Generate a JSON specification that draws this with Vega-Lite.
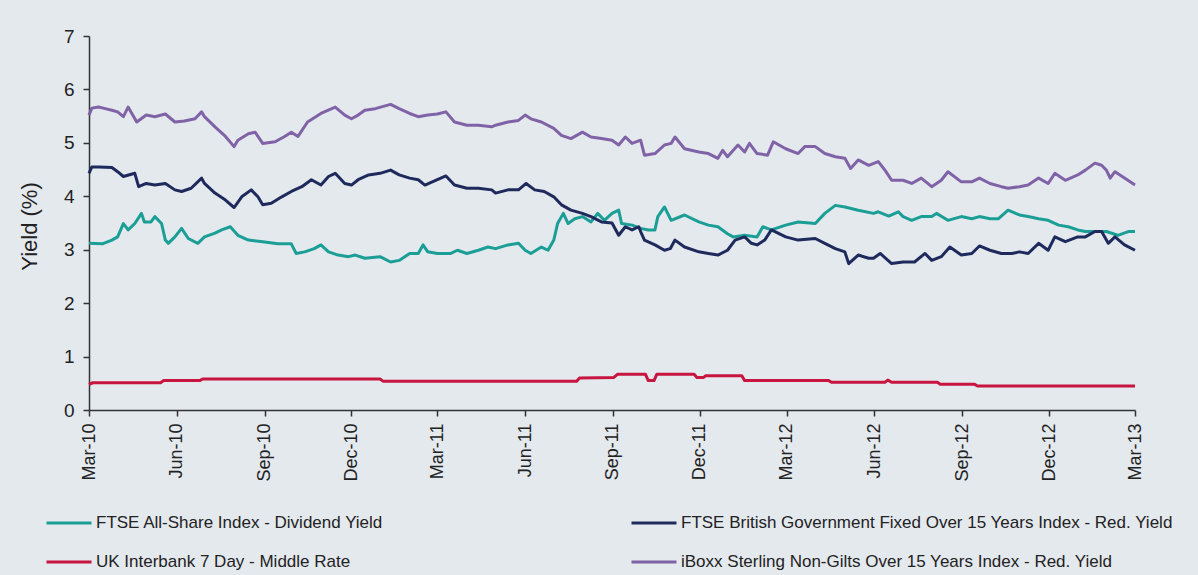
{
  "$schema": "https://vega.github.io/schema/vega-lite/v6.json",
  "width": 1046,
  "height": 374,
  "autosize": {"type": "none"},
  "padding": {"left": 89, "top": 36, "right": 63, "bottom": 165},
  "background": "#e4e9ee",
  "config": {
    "view": {"stroke": null},
    "font": "Liberation Sans"
  },
  "datasets": {
    "rows": [
      {"s":"A","d":"2010-03-01","v":3.12},{"s":"A","d":"2010-03-15","v":3.11},{"s":"A","d":"2010-03-25","v":3.18},{"s":"A","d":"2010-03-31","v":3.24},{"s":"A","d":"2010-04-06","v":3.49},{"s":"A","d":"2010-04-11","v":3.37},{"s":"A","d":"2010-04-18","v":3.49},{"s":"A","d":"2010-04-25","v":3.68},{"s":"A","d":"2010-04-28","v":3.52},{"s":"A","d":"2010-05-05","v":3.52},{"s":"A","d":"2010-05-09","v":3.62},{"s":"A","d":"2010-05-16","v":3.49},{"s":"A","d":"2010-05-20","v":3.18},{"s":"A","d":"2010-05-23","v":3.12},{"s":"A","d":"2010-05-30","v":3.24},{"s":"A","d":"2010-06-06","v":3.40},{"s":"A","d":"2010-06-13","v":3.21},{"s":"A","d":"2010-06-23","v":3.12},{"s":"A","d":"2010-06-30","v":3.24},{"s":"A","d":"2010-07-11","v":3.31},{"s":"A","d":"2010-07-18","v":3.37},{"s":"A","d":"2010-07-27","v":3.43},{"s":"A","d":"2010-08-04","v":3.27},{"s":"A","d":"2010-08-15","v":3.18},{"s":"A","d":"2010-08-30","v":3.15},{"s":"A","d":"2010-09-15","v":3.11},{"s":"A","d":"2010-09-29","v":3.11},{"s":"A","d":"2010-10-04","v":2.93},{"s":"A","d":"2010-10-13","v":2.96},{"s":"A","d":"2010-10-23","v":3.02},{"s":"A","d":"2010-10-30","v":3.09},{"s":"A","d":"2010-11-07","v":2.96},{"s":"A","d":"2010-11-17","v":2.90},{"s":"A","d":"2010-11-28","v":2.87},{"s":"A","d":"2010-12-05","v":2.90},{"s":"A","d":"2010-12-15","v":2.84},{"s":"A","d":"2010-12-31","v":2.87},{"s":"A","d":"2011-01-11","v":2.77},{"s":"A","d":"2011-01-20","v":2.80},{"s":"A","d":"2011-01-31","v":2.93},{"s":"A","d":"2011-02-09","v":2.93},{"s":"A","d":"2011-02-14","v":3.09},{"s":"A","d":"2011-02-19","v":2.96},{"s":"A","d":"2011-03-01","v":2.93},{"s":"A","d":"2011-03-15","v":2.93},{"s":"A","d":"2011-03-22","v":2.99},{"s":"A","d":"2011-04-01","v":2.93},{"s":"A","d":"2011-04-13","v":2.99},{"s":"A","d":"2011-04-23","v":3.05},{"s":"A","d":"2011-05-01","v":3.02},{"s":"A","d":"2011-05-14","v":3.09},{"s":"A","d":"2011-05-25","v":3.12},{"s":"A","d":"2011-06-01","v":2.99},{"s":"A","d":"2011-06-07","v":2.93},{"s":"A","d":"2011-06-18","v":3.05},{"s":"A","d":"2011-06-25","v":2.99},{"s":"A","d":"2011-07-01","v":3.18},{"s":"A","d":"2011-07-05","v":3.49},{"s":"A","d":"2011-07-11","v":3.68},{"s":"A","d":"2011-07-16","v":3.49},{"s":"A","d":"2011-07-23","v":3.58},{"s":"A","d":"2011-07-31","v":3.62},{"s":"A","d":"2011-08-09","v":3.52},{"s":"A","d":"2011-08-16","v":3.68},{"s":"A","d":"2011-08-23","v":3.55},{"s":"A","d":"2011-08-31","v":3.68},{"s":"A","d":"2011-09-07","v":3.74},{"s":"A","d":"2011-09-10","v":3.49},{"s":"A","d":"2011-09-21","v":3.46},{"s":"A","d":"2011-09-30","v":3.40},{"s":"A","d":"2011-10-08","v":3.37},{"s":"A","d":"2011-10-15","v":3.37},{"s":"A","d":"2011-10-18","v":3.62},{"s":"A","d":"2011-10-25","v":3.80},{"s":"A","d":"2011-11-01","v":3.55},{"s":"A","d":"2011-11-15","v":3.65},{"s":"A","d":"2011-11-30","v":3.52},{"s":"A","d":"2011-12-10","v":3.46},{"s":"A","d":"2011-12-20","v":3.43},{"s":"A","d":"2011-12-30","v":3.30},{"s":"A","d":"2012-01-05","v":3.24},{"s":"A","d":"2012-01-17","v":3.27},{"s":"A","d":"2012-01-30","v":3.24},{"s":"A","d":"2012-02-05","v":3.43},{"s":"A","d":"2012-02-14","v":3.37},{"s":"A","d":"2012-02-29","v":3.46},{"s":"A","d":"2012-03-13","v":3.52},{"s":"A","d":"2012-03-31","v":3.49},{"s":"A","d":"2012-04-10","v":3.68},{"s":"A","d":"2012-04-21","v":3.83},{"s":"A","d":"2012-05-01","v":3.80},{"s":"A","d":"2012-05-15","v":3.74},{"s":"A","d":"2012-05-31","v":3.68},{"s":"A","d":"2012-06-05","v":3.71},{"s":"A","d":"2012-06-16","v":3.63},{"s":"A","d":"2012-06-26","v":3.71},{"s":"A","d":"2012-07-01","v":3.62},{"s":"A","d":"2012-07-10","v":3.55},{"s":"A","d":"2012-07-20","v":3.62},{"s":"A","d":"2012-07-31","v":3.62},{"s":"A","d":"2012-08-05","v":3.68},{"s":"A","d":"2012-08-17","v":3.55},{"s":"A","d":"2012-08-31","v":3.62},{"s":"A","d":"2012-09-11","v":3.58},{"s":"A","d":"2012-09-19","v":3.62},{"s":"A","d":"2012-09-30","v":3.58},{"s":"A","d":"2012-10-09","v":3.58},{"s":"A","d":"2012-10-19","v":3.74},{"s":"A","d":"2012-10-31","v":3.65},{"s":"A","d":"2012-11-09","v":3.62},{"s":"A","d":"2012-11-20","v":3.58},{"s":"A","d":"2012-11-30","v":3.55},{"s":"A","d":"2012-12-11","v":3.46},{"s":"A","d":"2012-12-21","v":3.43},{"s":"A","d":"2012-12-31","v":3.37},{"s":"A","d":"2013-01-08","v":3.34},{"s":"A","d":"2013-01-18","v":3.34},{"s":"A","d":"2013-01-30","v":3.34},{"s":"A","d":"2013-02-11","v":3.27},{"s":"A","d":"2013-02-22","v":3.34},{"s":"A","d":"2013-03-01","v":3.34},

      {"s":"B","d":"2010-03-01","v":4.43},{"s":"B","d":"2010-03-04","v":4.55},{"s":"B","d":"2010-03-11","v":4.55},{"s":"B","d":"2010-03-25","v":4.54},{"s":"B","d":"2010-03-31","v":4.46},{"s":"B","d":"2010-04-06","v":4.37},{"s":"B","d":"2010-04-18","v":4.43},{"s":"B","d":"2010-04-22","v":4.18},{"s":"B","d":"2010-04-30","v":4.24},{"s":"B","d":"2010-05-09","v":4.21},{"s":"B","d":"2010-05-20","v":4.24},{"s":"B","d":"2010-05-30","v":4.12},{"s":"B","d":"2010-06-06","v":4.09},{"s":"B","d":"2010-06-16","v":4.15},{"s":"B","d":"2010-06-27","v":4.34},{"s":"B","d":"2010-06-30","v":4.24},{"s":"B","d":"2010-07-11","v":4.06},{"s":"B","d":"2010-07-22","v":3.93},{"s":"B","d":"2010-07-31","v":3.79},{"s":"B","d":"2010-08-08","v":3.99},{"s":"B","d":"2010-08-18","v":4.12},{"s":"B","d":"2010-08-25","v":3.99},{"s":"B","d":"2010-08-30","v":3.84},{"s":"B","d":"2010-09-08","v":3.87},{"s":"B","d":"2010-09-19","v":3.99},{"s":"B","d":"2010-09-29","v":4.09},{"s":"B","d":"2010-10-10","v":4.18},{"s":"B","d":"2010-10-20","v":4.31},{"s":"B","d":"2010-10-30","v":4.21},{"s":"B","d":"2010-11-07","v":4.37},{"s":"B","d":"2010-11-14","v":4.43},{"s":"B","d":"2010-11-24","v":4.24},{"s":"B","d":"2010-12-01","v":4.21},{"s":"B","d":"2010-12-08","v":4.31},{"s":"B","d":"2010-12-19","v":4.40},{"s":"B","d":"2010-12-31","v":4.43},{"s":"B","d":"2011-01-11","v":4.49},{"s":"B","d":"2011-01-20","v":4.40},{"s":"B","d":"2011-01-31","v":4.34},{"s":"B","d":"2011-02-09","v":4.31},{"s":"B","d":"2011-02-16","v":4.21},{"s":"B","d":"2011-03-01","v":4.31},{"s":"B","d":"2011-03-10","v":4.38},{"s":"B","d":"2011-03-19","v":4.21},{"s":"B","d":"2011-04-01","v":4.15},{"s":"B","d":"2011-04-13","v":4.15},{"s":"B","d":"2011-04-27","v":4.12},{"s":"B","d":"2011-05-01","v":4.06},{"s":"B","d":"2011-05-14","v":4.12},{"s":"B","d":"2011-05-25","v":4.12},{"s":"B","d":"2011-06-02","v":4.24},{"s":"B","d":"2011-06-11","v":4.12},{"s":"B","d":"2011-06-21","v":4.09},{"s":"B","d":"2011-07-01","v":3.99},{"s":"B","d":"2011-07-09","v":3.84},{"s":"B","d":"2011-07-19","v":3.74},{"s":"B","d":"2011-07-31","v":3.68},{"s":"B","d":"2011-08-09","v":3.62},{"s":"B","d":"2011-08-20","v":3.52},{"s":"B","d":"2011-08-31","v":3.50},{"s":"B","d":"2011-09-07","v":3.27},{"s":"B","d":"2011-09-14","v":3.43},{"s":"B","d":"2011-09-21","v":3.37},{"s":"B","d":"2011-09-28","v":3.43},{"s":"B","d":"2011-09-30","v":3.34},{"s":"B","d":"2011-10-04","v":3.18},{"s":"B","d":"2011-10-15","v":3.09},{"s":"B","d":"2011-10-25","v":2.99},{"s":"B","d":"2011-10-31","v":3.02},{"s":"B","d":"2011-11-05","v":3.18},{"s":"B","d":"2011-11-15","v":3.05},{"s":"B","d":"2011-11-30","v":2.96},{"s":"B","d":"2011-12-10","v":2.93},{"s":"B","d":"2011-12-20","v":2.90},{"s":"B","d":"2011-12-30","v":2.99},{"s":"B","d":"2012-01-07","v":3.18},{"s":"B","d":"2012-01-17","v":3.24},{"s":"B","d":"2012-01-24","v":3.12},{"s":"B","d":"2012-01-30","v":3.09},{"s":"B","d":"2012-02-07","v":3.18},{"s":"B","d":"2012-02-14","v":3.37},{"s":"B","d":"2012-02-29","v":3.24},{"s":"B","d":"2012-03-13","v":3.18},{"s":"B","d":"2012-03-31","v":3.21},{"s":"B","d":"2012-04-10","v":3.12},{"s":"B","d":"2012-04-21","v":3.02},{"s":"B","d":"2012-05-01","v":2.96},{"s":"B","d":"2012-05-05","v":2.74},{"s":"B","d":"2012-05-15","v":2.90},{"s":"B","d":"2012-05-26","v":2.84},{"s":"B","d":"2012-05-31","v":2.84},{"s":"B","d":"2012-06-07","v":2.93},{"s":"B","d":"2012-06-19","v":2.74},{"s":"B","d":"2012-07-01","v":2.77},{"s":"B","d":"2012-07-13","v":2.77},{"s":"B","d":"2012-07-24","v":2.93},{"s":"B","d":"2012-07-31","v":2.80},{"s":"B","d":"2012-08-10","v":2.87},{"s":"B","d":"2012-08-19","v":3.05},{"s":"B","d":"2012-08-31","v":2.90},{"s":"B","d":"2012-09-11","v":2.93},{"s":"B","d":"2012-09-19","v":3.07},{"s":"B","d":"2012-09-30","v":2.99},{"s":"B","d":"2012-10-12","v":2.93},{"s":"B","d":"2012-10-23","v":2.93},{"s":"B","d":"2012-10-31","v":2.96},{"s":"B","d":"2012-11-09","v":2.93},{"s":"B","d":"2012-11-20","v":3.12},{"s":"B","d":"2012-11-30","v":2.99},{"s":"B","d":"2012-12-07","v":3.24},{"s":"B","d":"2012-12-18","v":3.15},{"s":"B","d":"2012-12-31","v":3.24},{"s":"B","d":"2013-01-08","v":3.24},{"s":"B","d":"2013-01-18","v":3.34},{"s":"B","d":"2013-01-25","v":3.34},{"s":"B","d":"2013-02-01","v":3.12},{"s":"B","d":"2013-02-08","v":3.24},{"s":"B","d":"2013-02-18","v":3.09},{"s":"B","d":"2013-03-01","v":2.99},

      {"s":"C","d":"2010-03-01","v":0.48},{"s":"C","d":"2010-03-05","v":0.51},{"s":"C","d":"2010-05-15","v":0.51},{"s":"C","d":"2010-05-18","v":0.55},{"s":"C","d":"2010-06-25","v":0.55},{"s":"C","d":"2010-06-28","v":0.58},{"s":"C","d":"2010-12-31","v":0.58},{"s":"C","d":"2011-01-03","v":0.54},{"s":"C","d":"2011-07-25","v":0.54},{"s":"C","d":"2011-07-28","v":0.60},{"s":"C","d":"2011-09-02","v":0.61},{"s":"C","d":"2011-09-06","v":0.67},{"s":"C","d":"2011-10-05","v":0.67},{"s":"C","d":"2011-10-08","v":0.55},{"s":"C","d":"2011-10-14","v":0.55},{"s":"C","d":"2011-10-17","v":0.67},{"s":"C","d":"2011-11-25","v":0.67},{"s":"C","d":"2011-11-28","v":0.61},{"s":"C","d":"2011-12-05","v":0.61},{"s":"C","d":"2011-12-07","v":0.64},{"s":"C","d":"2012-01-14","v":0.64},{"s":"C","d":"2012-01-17","v":0.55},{"s":"C","d":"2012-04-14","v":0.55},{"s":"C","d":"2012-04-17","v":0.52},{"s":"C","d":"2012-06-12","v":0.52},{"s":"C","d":"2012-06-15","v":0.56},{"s":"C","d":"2012-06-19","v":0.52},{"s":"C","d":"2012-08-06","v":0.52},{"s":"C","d":"2012-08-09","v":0.48},{"s":"C","d":"2012-09-14","v":0.48},{"s":"C","d":"2012-09-17","v":0.45},{"s":"C","d":"2013-03-01","v":0.45},

      {"s":"D","d":"2010-03-01","v":5.52},{"s":"D","d":"2010-03-04","v":5.65},{"s":"D","d":"2010-03-11","v":5.67},{"s":"D","d":"2010-03-18","v":5.64},{"s":"D","d":"2010-03-25","v":5.61},{"s":"D","d":"2010-03-31","v":5.58},{"s":"D","d":"2010-04-06","v":5.49},{"s":"D","d":"2010-04-11","v":5.67},{"s":"D","d":"2010-04-20","v":5.39},{"s":"D","d":"2010-04-30","v":5.52},{"s":"D","d":"2010-05-09","v":5.49},{"s":"D","d":"2010-05-20","v":5.54},{"s":"D","d":"2010-05-30","v":5.39},{"s":"D","d":"2010-06-09","v":5.41},{"s":"D","d":"2010-06-20","v":5.45},{"s":"D","d":"2010-06-27","v":5.58},{"s":"D","d":"2010-06-30","v":5.49},{"s":"D","d":"2010-07-11","v":5.30},{"s":"D","d":"2010-07-22","v":5.12},{"s":"D","d":"2010-07-31","v":4.93},{"s":"D","d":"2010-08-04","v":5.05},{"s":"D","d":"2010-08-15","v":5.17},{"s":"D","d":"2010-08-22","v":5.20},{"s":"D","d":"2010-08-30","v":4.99},{"s":"D","d":"2010-09-12","v":5.02},{"s":"D","d":"2010-09-22","v":5.12},{"s":"D","d":"2010-09-29","v":5.20},{"s":"D","d":"2010-10-06","v":5.12},{"s":"D","d":"2010-10-16","v":5.39},{"s":"D","d":"2010-10-30","v":5.55},{"s":"D","d":"2010-11-14","v":5.67},{"s":"D","d":"2010-11-24","v":5.52},{"s":"D","d":"2010-12-01","v":5.45},{"s":"D","d":"2010-12-08","v":5.52},{"s":"D","d":"2010-12-15","v":5.61},{"s":"D","d":"2010-12-26","v":5.64},{"s":"D","d":"2011-01-11","v":5.72},{"s":"D","d":"2011-01-20","v":5.64},{"s":"D","d":"2011-01-31","v":5.55},{"s":"D","d":"2011-02-09","v":5.49},{"s":"D","d":"2011-02-19","v":5.52},{"s":"D","d":"2011-03-01","v":5.54},{"s":"D","d":"2011-03-10","v":5.58},{"s":"D","d":"2011-03-19","v":5.39},{"s":"D","d":"2011-04-01","v":5.33},{"s":"D","d":"2011-04-13","v":5.33},{"s":"D","d":"2011-04-27","v":5.30},{"s":"D","d":"2011-05-01","v":5.33},{"s":"D","d":"2011-05-14","v":5.39},{"s":"D","d":"2011-05-25","v":5.42},{"s":"D","d":"2011-06-01","v":5.52},{"s":"D","d":"2011-06-07","v":5.45},{"s":"D","d":"2011-06-18","v":5.39},{"s":"D","d":"2011-07-01","v":5.27},{"s":"D","d":"2011-07-09","v":5.14},{"s":"D","d":"2011-07-19","v":5.08},{"s":"D","d":"2011-07-31","v":5.20},{"s":"D","d":"2011-08-09","v":5.11},{"s":"D","d":"2011-08-20","v":5.08},{"s":"D","d":"2011-08-31","v":5.05},{"s":"D","d":"2011-09-07","v":4.96},{"s":"D","d":"2011-09-14","v":5.11},{"s":"D","d":"2011-09-21","v":4.99},{"s":"D","d":"2011-09-30","v":5.05},{"s":"D","d":"2011-10-04","v":4.77},{"s":"D","d":"2011-10-15","v":4.80},{"s":"D","d":"2011-10-25","v":4.96},{"s":"D","d":"2011-11-01","v":4.99},{"s":"D","d":"2011-11-05","v":5.11},{"s":"D","d":"2011-11-15","v":4.89},{"s":"D","d":"2011-11-30","v":4.83},{"s":"D","d":"2011-12-10","v":4.80},{"s":"D","d":"2011-12-20","v":4.71},{"s":"D","d":"2011-12-25","v":4.86},{"s":"D","d":"2011-12-30","v":4.74},{"s":"D","d":"2012-01-10","v":4.96},{"s":"D","d":"2012-01-17","v":4.83},{"s":"D","d":"2012-01-22","v":4.99},{"s":"D","d":"2012-01-30","v":4.80},{"s":"D","d":"2012-02-10","v":4.77},{"s":"D","d":"2012-02-16","v":5.02},{"s":"D","d":"2012-02-29","v":4.89},{"s":"D","d":"2012-03-13","v":4.80},{"s":"D","d":"2012-03-20","v":4.93},{"s":"D","d":"2012-03-31","v":4.93},{"s":"D","d":"2012-04-10","v":4.80},{"s":"D","d":"2012-04-21","v":4.74},{"s":"D","d":"2012-05-01","v":4.71},{"s":"D","d":"2012-05-07","v":4.52},{"s":"D","d":"2012-05-15","v":4.68},{"s":"D","d":"2012-05-26","v":4.58},{"s":"D","d":"2012-06-05","v":4.65},{"s":"D","d":"2012-06-12","v":4.49},{"s":"D","d":"2012-06-19","v":4.30},{"s":"D","d":"2012-07-01","v":4.30},{"s":"D","d":"2012-07-10","v":4.24},{"s":"D","d":"2012-07-20","v":4.34},{"s":"D","d":"2012-07-31","v":4.18},{"s":"D","d":"2012-08-10","v":4.30},{"s":"D","d":"2012-08-17","v":4.46},{"s":"D","d":"2012-08-31","v":4.27},{"s":"D","d":"2012-09-11","v":4.27},{"s":"D","d":"2012-09-19","v":4.34},{"s":"D","d":"2012-09-30","v":4.24},{"s":"D","d":"2012-10-12","v":4.18},{"s":"D","d":"2012-10-19","v":4.15},{"s":"D","d":"2012-10-31","v":4.18},{"s":"D","d":"2012-11-09","v":4.21},{"s":"D","d":"2012-11-20","v":4.34},{"s":"D","d":"2012-11-30","v":4.24},{"s":"D","d":"2012-12-07","v":4.43},{"s":"D","d":"2012-12-18","v":4.30},{"s":"D","d":"2012-12-31","v":4.40},{"s":"D","d":"2013-01-08","v":4.49},{"s":"D","d":"2013-01-18","v":4.62},{"s":"D","d":"2013-01-25","v":4.58},{"s":"D","d":"2013-01-30","v":4.49},{"s":"D","d":"2013-02-03","v":4.34},{"s":"D","d":"2013-02-08","v":4.46},{"s":"D","d":"2013-02-18","v":4.34},{"s":"D","d":"2013-03-01","v":4.21}
    ]
  },
  "data": {"name": "rows"},
  "mark": {"type": "line", "interpolate": "linear", "strokeJoin": "round"},
  "encoding": {
    "x": {
      "field": "d",
      "type": "temporal",
      "scale": {
        "type": "utc",
        "domain": [
          {"year": 2010, "month": 3, "date": 1, "utc": true},
          {"year": 2013, "month": 3, "date": 1, "utc": true}
        ]
      },
      "axis": {
        "title": null,
        "labelExpr": "utcFormat(datum.value, '%b-%y')",
        "values": [
          {"year": 2010, "month": 3, "date": 1, "utc": true},
          {"year": 2010, "month": 6, "date": 1, "utc": true},
          {"year": 2010, "month": 9, "date": 1, "utc": true},
          {"year": 2010, "month": 12, "date": 1, "utc": true},
          {"year": 2011, "month": 3, "date": 1, "utc": true},
          {"year": 2011, "month": 6, "date": 1, "utc": true},
          {"year": 2011, "month": 9, "date": 1, "utc": true},
          {"year": 2011, "month": 12, "date": 1, "utc": true},
          {"year": 2012, "month": 3, "date": 1, "utc": true},
          {"year": 2012, "month": 6, "date": 1, "utc": true},
          {"year": 2012, "month": 9, "date": 1, "utc": true},
          {"year": 2012, "month": 12, "date": 1, "utc": true},
          {"year": 2013, "month": 3, "date": 1, "utc": true}
        ],
        "labelAngle": -90,
        "labelFontSize": 18,
        "labelColor": "#222",
        "labelPadding": 7,
        "tickSize": 6,
        "tickColor": "#333",
        "domainColor": "#333",
        "domainWidth": 1.5,
        "tickWidth": 1.5,
        "grid": false,
        "labelFlush": false,
        "labelOverlap": false
      }
    },
    "y": {
      "field": "v",
      "type": "quantitative",
      "scale": {"domain": [0, 7], "nice": false, "zero": true},
      "axis": {
        "title": "Yield  (%)",
        "titleFontSize": 22,
        "titleFontWeight": "normal",
        "titleColor": "#222",
        "titleX": -60,
        "titleY": 190,
        "titleAngle": -90,
        "titleAlign": "center",
        "titleBaseline": "middle",
        "values": [0, 1, 2, 3, 4, 5, 6, 7],
        "labelFontSize": 19,
        "labelColor": "#222",
        "labelPadding": 9,
        "tickSize": 6,
        "tickColor": "#333",
        "domainColor": "#333",
        "domainWidth": 1.5,
        "tickWidth": 1.5,
        "grid": false
      }
    },
    "color": {
      "field": "s",
      "type": "nominal",
      "scale": {
        "domain": ["A", "B", "C", "D"],
        "range": ["#1a9e95", "#1f2a5c", "#c8153f", "#8062a6"]
      },
      "legend": {
        "title": null,
        "orient": "none",
        "legendX": -44,
        "legendY": 463,
        "direction": "horizontal",
        "columns": 2,
        "columnPadding": 241,
        "rowPadding": 7,
        "symbolType": "stroke",
        "symbolSize": 2025,
        "symbolStrokeWidth": 4,
        "labelFontSize": 17,
        "labelColor": "#222",
        "labelOffset": 3,
        "labelLimit": 700,
        "labelExpr": "datum.value == 'A' ? 'FTSE All-Share Index - Dividend Yield' : datum.value == 'B' ? 'FTSE British Government Fixed Over 15 Years Index - Red. Yield' : datum.value == 'C' ? 'UK Interbank 7 Day - Middle Rate' : 'iBoxx Sterling Non-Gilts Over 15 Years Index - Red. Yield'"
      }
    },
    "strokeWidth": {
      "field": "s",
      "type": "nominal",
      "scale": {"domain": ["A", "B", "C", "D"], "range": [3, 3, 3, 4]},
      "legend": null
    }
  }
}
